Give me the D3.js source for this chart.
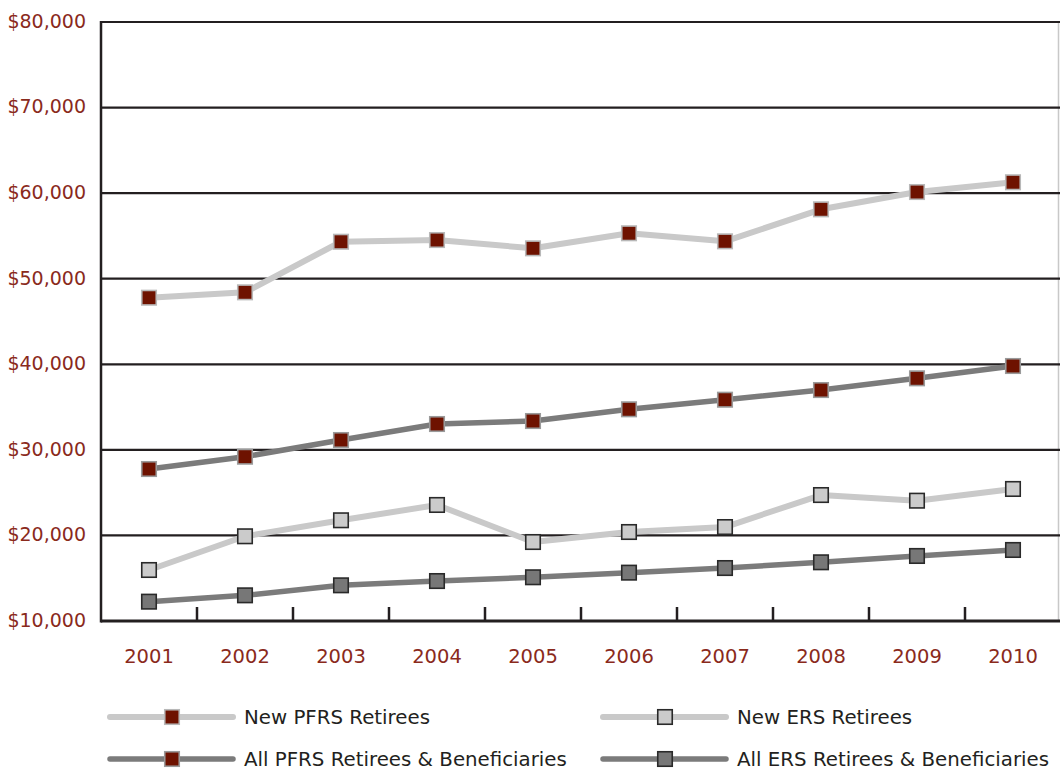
<!DOCTYPE html>
<html>
<head>
<meta charset="utf-8">
<script src="https://cdn.jsdelivr.net/npm/d3@7/dist/d3.min.js"></script>
<style>
  html, body { margin: 0; padding: 0; background: #fff; }
  svg { display: block; }
  text { font-family: "DejaVu Sans", sans-serif; }
</style>
</head>
<body>
<svg id="chart" width="1060" height="770"></svg>
<script>
// Average annual benefit, 2001–2010
const years = ["2001","2002","2003","2004","2005","2006","2007","2008","2009","2010"];
const newPFRS = [47780, 48410, 54320, 54520, 53550, 55310, 54370, 58110, 60130, 61270];
const allPFRS = [27760, 29200, 31150, 33020, 33370, 34740, 35860, 36990, 38360, 39800];
const newERS  = [15960, 19900, 21770, 23560, 19230, 20400, 20980, 24720, 24060, 25430];
const allERS  = [12260, 13000, 14170, 14670, 15110, 15650, 16190, 16860, 17600, 18300];
const yTicks  = [10000, 20000, 30000, 40000, 50000, 60000, 70000, 80000];

const series = [
  { name: "New PFRS Retirees", values: newPFRS, line: "#c9c9c9", fill: "#6e1200", stroke: "#b8b8b8", lw: 6 },
  { name: "New ERS Retirees", values: newERS, line: "#c9c9c9", fill: "#cbcbcb", stroke: "#2a2a2a", lw: 6 },
  { name: "All PFRS Retirees & Beneficiaries", values: allPFRS, line: "#7b7b7b", fill: "#6e1200", stroke: "#9a9a9a", lw: 5.5 },
  { name: "All ERS Retirees & Beneficiaries", values: allERS, line: "#7b7b7b", fill: "#777777", stroke: "#2a2a2a", lw: 5.5 }
];

const svg = d3.select("#chart");
const plotL = 101, plotR = 1061, plotT = 22, plotB = 621;

const x = d3.scaleBand().domain(years).range([plotL, plotR]);
const y = d3.scaleLinear().domain([10000, 80000]).range([plotB, plotT]);

const ink = "#231f20";
const labelColor = "#8a2a1c";

// right frame edge
svg.append("line")
  .attr("x1", 1058.5).attr("x2", 1058.5).attr("y1", plotT).attr("y2", plotB)
  .attr("stroke", "#c8c8c8").attr("stroke-width", 1.5);

// horizontal gridlines
svg.append("g").selectAll("line")
  .data(yTicks.filter(d => d > 10000))
  .join("line")
  .attr("x1", plotL).attr("x2", 1060)
  .attr("y1", d => y(d)).attr("y2", d => y(d))
  .attr("stroke", ink).attr("stroke-width", 2.2);

// y-axis labels
const yAxis = d3.axisLeft(y).tickValues(yTicks).tickSize(0).tickPadding(15)
  .tickFormat(d => "$" + d3.format(",")(d));
const ya = svg.append("g").attr("transform", `translate(${plotL},0)`).call(yAxis);
ya.select(".domain").remove();
ya.selectAll("text")
  .attr("fill", labelColor).attr("font-size", 19)
  .attr("dy", "0.28em")
  .style("font-family", "'DejaVu Sans', sans-serif");

// x-axis: band labels, tick marks at band edges pointing up
const xa = svg.append("g").attr("transform", `translate(0,${plotB})`)
  .call(d3.axisBottom(x).tickSize(0).tickPadding(28));
xa.select(".domain").remove();
xa.selectAll("text")
  .attr("fill", labelColor).attr("font-size", 19.5)
  .attr("dy", "0.71em");

svg.append("g").selectAll("line")
  .data(years.slice(1))
  .join("line")
  .attr("x1", d => x(d)).attr("x2", d => x(d))
  .attr("y1", plotB - 14).attr("y2", plotB)
  .attr("stroke", ink).attr("stroke-width", 2.5);

// axis lines
svg.append("line")
  .attr("x1", plotL).attr("x2", 1060).attr("y1", plotB).attr("y2", plotB)
  .attr("stroke", ink).attr("stroke-width", 3);
svg.append("line")
  .attr("x1", plotL).attr("x2", plotL).attr("y1", plotT - 1).attr("y2", plotB + 1.5)
  .attr("stroke", ink).attr("stroke-width", 2.5);

const cx = d => x(d) + x.bandwidth() / 2;
const lineGen = (vals) => d3.line().x((d, i) => cx(years[i])).y(d => y(d))(vals);

const ms = 14.5;
// lines first, markers above them
series.forEach(s => {
  svg.append("path")
    .attr("d", lineGen(s.values))
    .attr("fill", "none").attr("stroke", s.line).attr("stroke-width", s.lw)
    .attr("stroke-linejoin", "round");
});
series.forEach(s => {
  svg.append("g").selectAll("rect")
    .data(s.values)
    .join("rect")
    .attr("x", (d, i) => cx(years[i]) - ms / 2)
    .attr("y", d => y(d) - ms / 2)
    .attr("width", ms).attr("height", ms)
    .attr("fill", s.fill).attr("stroke", s.stroke).attr("stroke-width", 1.6);
});

// legend
const legendPos = [
  { x0: 110, y0: 717 }, { x0: 603, y0: 717 },
  { x0: 110, y0: 759 }, { x0: 603, y0: 759 }
];
series.forEach((s, i) => {
  const p = legendPos[i];
  const g = svg.append("g");
  g.append("line")
    .attr("x1", p.x0).attr("x2", p.x0 + 123).attr("y1", p.y0).attr("y2", p.y0)
    .attr("stroke", s.line).attr("stroke-width", s.lw).attr("stroke-linecap", "round");
  g.append("rect")
    .attr("x", p.x0 + 62 - ms / 2).attr("y", p.y0 - ms / 2)
    .attr("width", ms).attr("height", ms)
    .attr("fill", s.fill).attr("stroke", s.stroke).attr("stroke-width", 1.6);
  g.append("text")
    .attr("x", p.x0 + 134).attr("y", p.y0).attr("dy", "0.35em")
    .attr("fill", ink).attr("font-size", 19.8)
    .text(s.name);
});
</script>
</body>
</html>
